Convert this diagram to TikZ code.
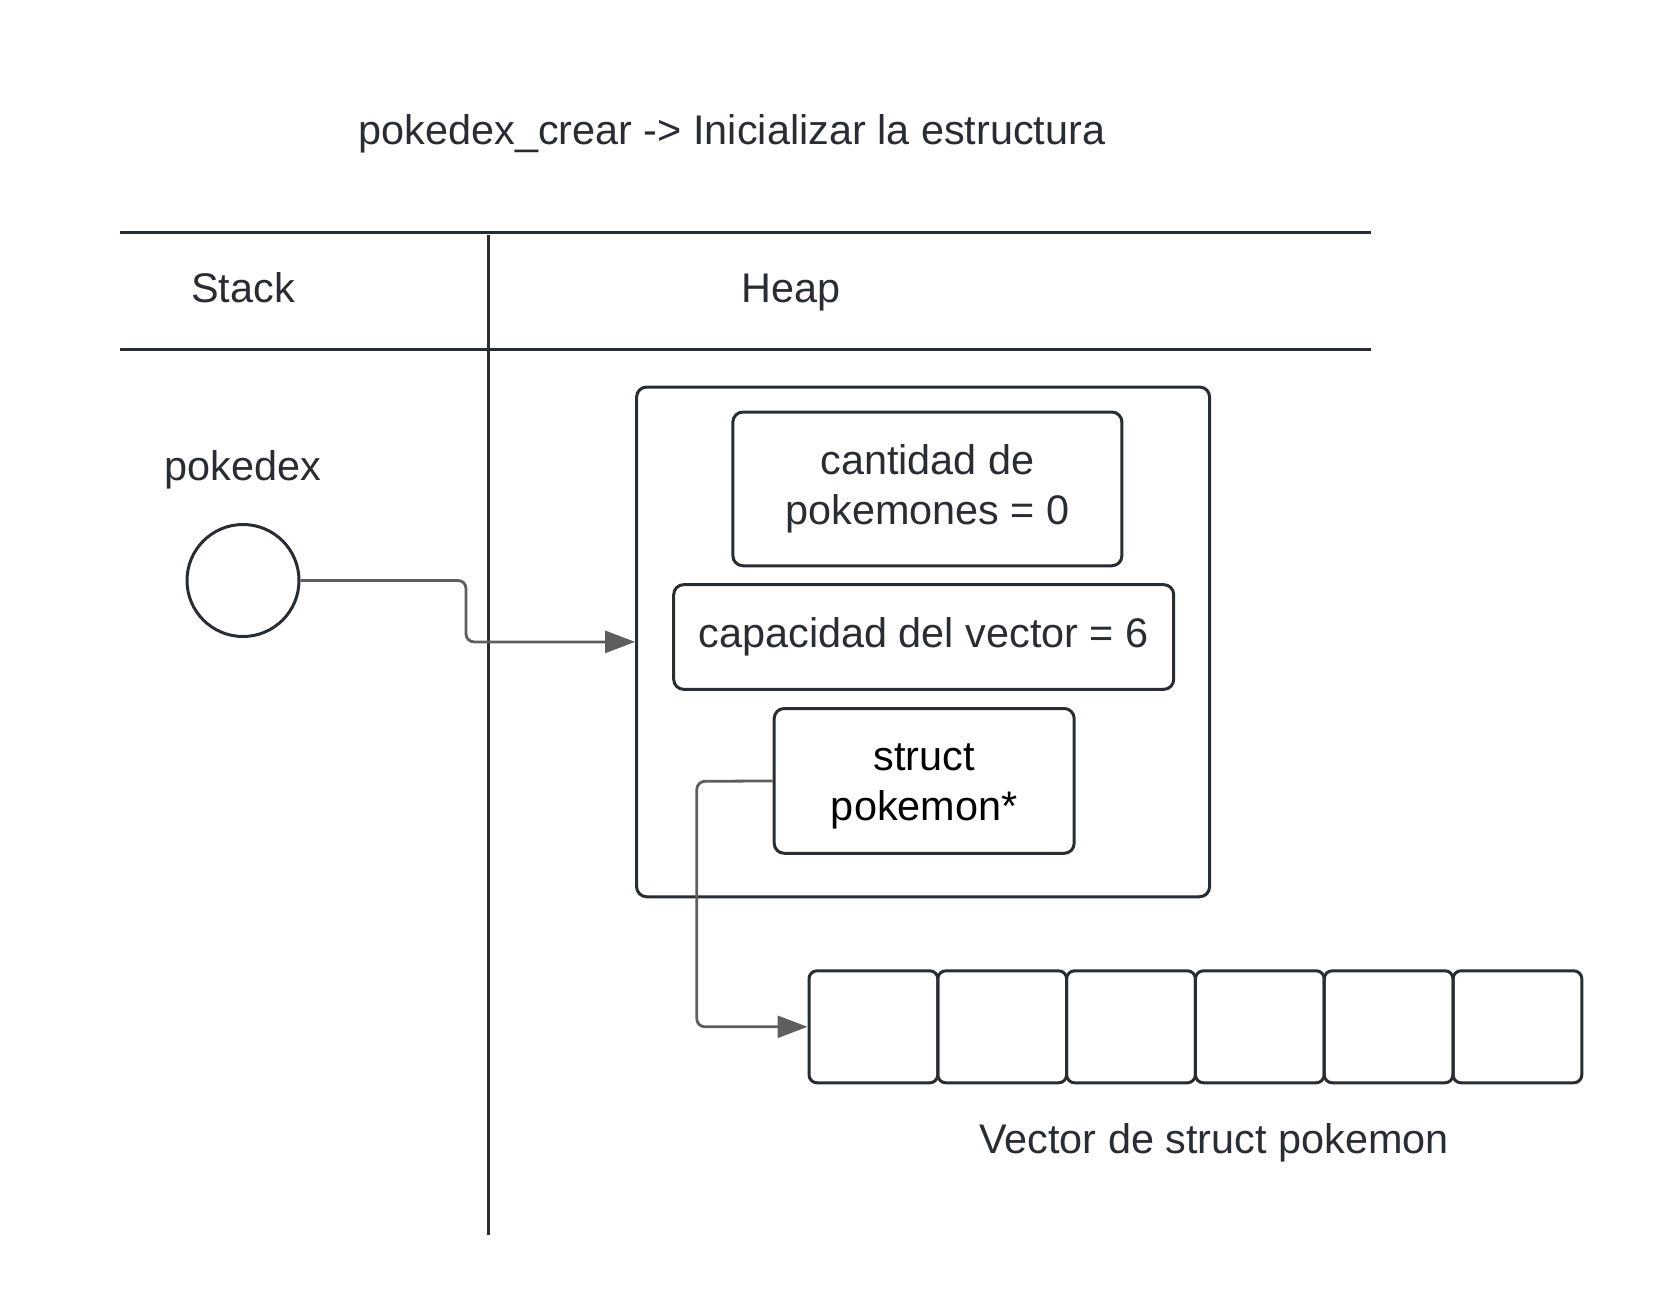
\documentclass[tikz,border=0pt]{standalone}
\usepackage{fontspec}
\setmainfont{Liberation Sans}
\usetikzlibrary{arrows.meta}
\definecolor{ink}{HTML}{282C33}
\definecolor{wire}{HTML}{5E5E5E}
\tikzset{
  lbl/.style={text=ink, font=\fontsize{41.4}{50.7}\selectfont, align=center, inner sep=0pt},
  field/.style={lbl, draw=ink, line width=3pt, rounded corners=10pt},
  cell/.style={draw=ink, line width=3pt, rounded corners=8pt, minimum width=128.8pt, minimum height=112pt, inner sep=0pt},
  ptr/.style={draw=wire, line width=2.8pt, rounded corners=8pt, -{Triangle[length=30pt,width=22pt]}},
  sep/.style={draw=ink, line width=3pt}
}
\begin{document}
\begin{tikzpicture}[x=1pt,y=-1pt]
  \useasboundingbox (0,0) rectangle (1658,1313);
  \node[lbl] (title) at (732,133.5) {pokedex\_crear -> Inicializar la estructura};
  % stack / heap table
  \coordinate (t1) at (119.5,232.5);
  \coordinate (t2) at (1371,232.5);
  \coordinate (b1) at (119.5,349.5);
  \coordinate (b2) at (1371,349.5);
  \coordinate (v1) at (488.5,235);
  \coordinate (v2) at (488.5,1235);
  \draw[sep] (t1) -- (t2);
  \draw[sep] (b1) -- (b2);
  \draw[sep] (v1) -- (v2);
  \node[lbl] (stack) at (243,288) {Stack};
  \node[lbl] (heap) at (791,292.5) {Heap};
  % stack side
  \node[lbl] (name) at (243,469.5) {pokedex};
  \node[draw=ink, line width=3pt, circle, minimum size=112pt] (pokedex) at (243,580.5) {};
  % heap side
  \node[field, minimum width=573pt, minimum height=509.7pt] (outer) at (923.1,641.9) {};
  \node[field, minimum width=389pt, minimum height=153.7pt] (cantidad) at (927.4,488.9) {cantidad de\\pokemones = 0};
  \node[field, minimum width=500pt, minimum height=104.7pt] (capacidad) at (923.7,637) {capacidad del vector = 6};
  \node[field, text=black, minimum width=300pt, minimum height=144.8pt] (vectorptr) at (924.2,780.9) {};
  \node[lbl, text=black] (ptrtext) at (924.2,786.5) {struct\\pokemon*};
  \foreach \i in {0,...,5}
    \node[cell] (c\i) at (873.4+128.8*\i,1026.8) {};
  \node[lbl] (vlabel) at (1214,1142.5) {Vector de struct pokemon};
  % pointers
  \coordinate (k1) at (466,580.5);
  \coordinate (k2) at (696.8,781.4);
  \draw[ptr] (pokedex.east) -- (k1) |- (outer.west);
  \draw[ptr] (vectorptr.west) -- (k2) |- (c0.west);
\end{tikzpicture}
\end{document}
